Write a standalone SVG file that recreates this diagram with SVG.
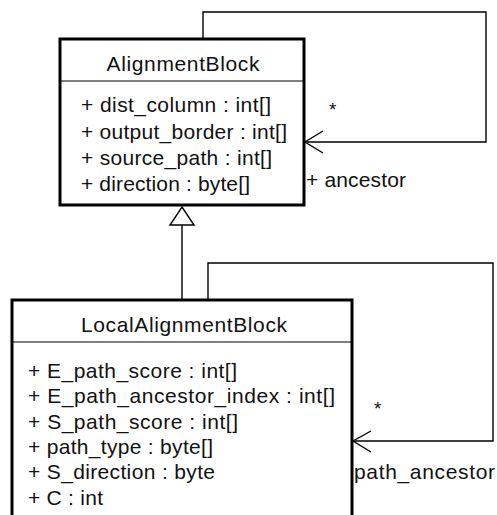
<svg xmlns="http://www.w3.org/2000/svg" width="497" height="515" viewBox="0 0 497 515">
<style>
text{font-family:"Liberation Sans",Arial,sans-serif;font-size:21px;fill:#111}
.box{fill:#fff;stroke:#000;stroke-width:3}
.div{stroke:#000;stroke-width:1.2}
.conn{fill:none;stroke:#000;stroke-width:1.4}
.title{text-anchor:middle}
.mult{font-size:19px}
</style>
<rect width="497" height="515" fill="#fff"/>
<g id="connectors">
<path class="conn" d="M203,38 V12 H486 V142 H305"/>
<path class="conn" d="M323,131 L305,142 L323,153"/>
<path class="conn" d="M182,225 V300"/>
<path fill="#fff" stroke="#000" stroke-width="1.4" d="M182,207 L194,225 L170,225 Z"/>
<path class="conn" d="M208,300 V263 H493 V441 H353"/>
<path class="conn" d="M371,431 L353,441 L371,452"/>
<text class="mult" x="329" y="116">*</text>
<text x="306" y="187" textLength="100" lengthAdjust="spacing">+ ancestor</text>
<text class="mult" x="374" y="415">*</text>
<text x="354" y="479" textLength="141" lengthAdjust="spacing">path_ancestor</text>
</g>
<g id="AlignmentBlock">
<rect class="box" x="60" y="39" width="244" height="166"/>
<line class="div" x1="60" y1="81" x2="304" y2="81"/>
<text class="title" x="183" y="71" textLength="153" lengthAdjust="spacing">AlignmentBlock</text>
<text x="81" y="112" textLength="190" lengthAdjust="spacing">+ dist_column : int[]</text>
<text x="81" y="138.5" textLength="206" lengthAdjust="spacing">+ output_border : int[]</text>
<text x="81" y="165" textLength="191" lengthAdjust="spacing">+ source_path : int[]</text>
<text x="81" y="191" textLength="169" lengthAdjust="spacing">+ direction : byte[]</text>
</g>
<g id="LocalAlignmentBlock">
<rect class="box" x="12" y="300" width="340" height="230"/>
<line class="div" x1="12" y1="342" x2="352" y2="342"/>
<text class="title" x="184" y="332" textLength="206" lengthAdjust="spacing">LocalAlignmentBlock</text>
<text x="28" y="378" textLength="209" lengthAdjust="spacing">+ E_path_score : int[]</text>
<text x="28" y="403.3" textLength="307" lengthAdjust="spacing">+ E_path_ancestor_index : int[]</text>
<text x="28" y="428.6" textLength="210" lengthAdjust="spacing">+ S_path_score : int[]</text>
<text x="28" y="453.9" textLength="185" lengthAdjust="spacing">+ path_type : byte[]</text>
<text x="28" y="479.2" textLength="187" lengthAdjust="spacing">+ S_direction : byte</text>
<text x="28" y="504.5" textLength="75" lengthAdjust="spacing">+ C : int</text>
</g>
</svg>
